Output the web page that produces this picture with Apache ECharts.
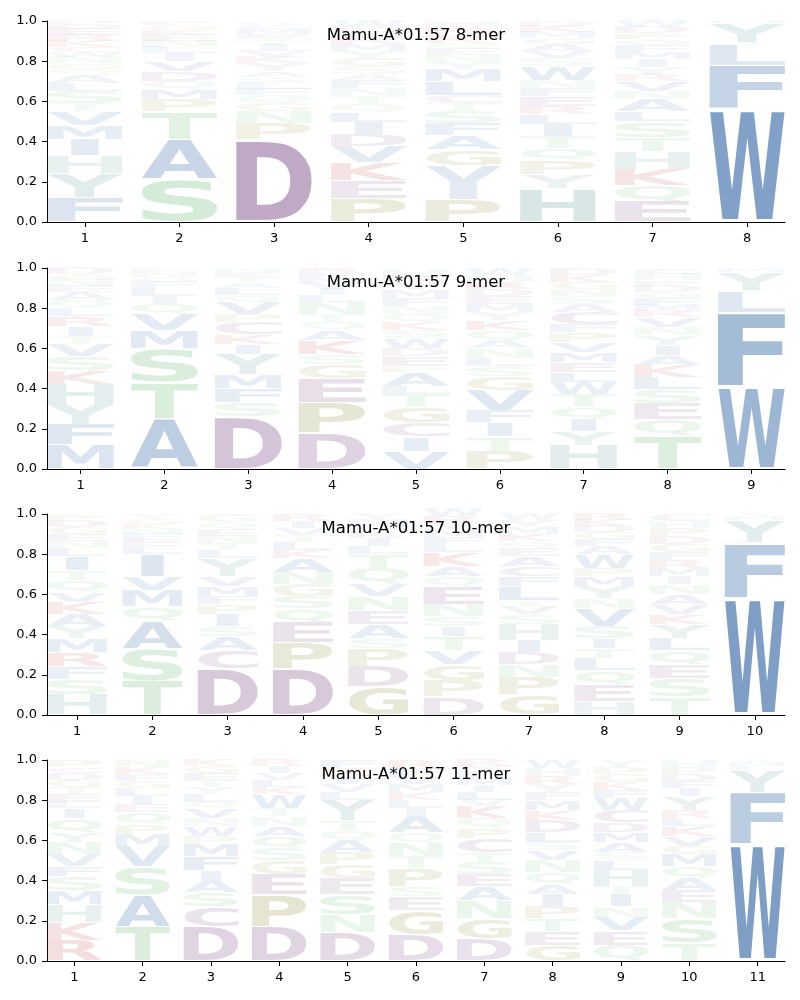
<!DOCTYPE html>
<html>
<head>
<meta charset="utf-8">
<script src="https://cdn.jsdelivr.net/npm/echarts@6/dist/echarts.min.js"></script>
<style>
html,body{margin:0;padding:0;background:#fff;}
#chart{width:800px;height:1000px;}
</style>
</head>
<body>
<div id="chart"></div>
<script>
// ---------------- DATA ----------------
const titles = ['Mamu-A*01:57 8-mer', 'Mamu-A*01:57 9-mer', 'Mamu-A*01:57 10-mer', 'Mamu-A*01:57 11-mer'];
const yTicks = [0, 0.2, 0.4, 0.6, 0.8, 1.0];
const xTicks8 = [1,2,3,4,5,6,7,8];
const xTicks9 = [1,2,3,4,5,6,7,8,9];
const xTicks10 = [1,2,3,4,5,6,7,8,9,10];
const xTicks11 = [1,2,3,4,5,6,7,8,9,10,11];

// each position: letters stacked bottom -> top with their frequencies
const logo8 = [
  [['F',.12],['Y',.12],['H',.09],['I',.08],['M',.07],['V',.07],['T',.04],['S',.06],['L',.04],['A',.04],['Q',.03],['G',.03],['N',.03],['W',.025],['C',.025],['K',.03],['R',.03],['E',.03],['D',.025],['P',.02]],
  [['S',.21],['A',.2],['T',.14],['P',.06],['M',.05],['Q',.04],['D',.05],['V',.05],['I',.04],['L',.03],['N',.03],['E',.03],['K',.025],['G',.025],['F',.02]],
  [['D',.41],['P',.08],['N',.06],['G',.04],['Q',.04],['F',.03],['L',.03],['S',.03],['A',.03],['Y',.04],['K',.03],['V',.03],['I',.03],['T',.03],['E',.025],['M',.025],['C',.02],['R',.01]],
  [['P',.115],['E',.09],['K',.09],['V',.08],['D',.06],['I',.06],['L',.05],['Q',.04],['T',.04],['N',.04],['F',.04],['A',.03],['S',.04],['G',.04],['Y',.035],['M',.035],['R',.03],['H',.03],['C',.025],['W',.03]],
  [['P',.11],['I',.08],['V',.09],['G',.08],['A',.07],['F',.06],['S',.06],['T',.04],['C',.04],['L',.07],['M',.06],['Y',.035],['N',.035],['E',.03],['Q',.03],['K',.03],['D',.03],['R',.025],['H',.025]],
  [['H',.165],['Y',.07],['P',.07],['Q',.06],['T',.06],['I',.06],['L',.05],['R',.04],['E',.05],['F',.04],['N',.04],['W',.07],['S',.04],['V',.035],['A',.035],['G',.03],['M',.03],['K',.03],['D',.025]],
  [['E',.1],['Q',.08],['K',.08],['H',.09],['T',.07],['S',.08],['L',.05],['A',.06],['N',.04],['V',.05],['R',.03],['Y',.04],['I',.04],['M',.035],['F',.035],['G',.03],['P',.03],['D',.03],['W',.03]],
  [['W',.56],['F',.22],['L',.1],['I',.015],['Y',.095],['M',.01]]
];
const logo9 = [
  [['M',.12],['F',.1],['Y',.1],['H',.1],['K',.07],['S',.07],['V',.06],['T',.04],['I',.05],['R',.05],['L',.04],['Q',.04],['A',.04],['E',.03],['N',.03],['G',.03],['D',.03]],
  [['A',.25],['T',.18],['S',.17],['M',.09],['V',.08],['Q',.05],['I',.04],['L',.04],['F',.03],['G',.025],['N',.025],['E',.02]],
  [['D',.26],['S',.07],['F',.07],['M',.07],['Y',.1],['I',.05],['K',.05],['C',.06],['P',.04],['V',.06],['Q',.035],['L',.035],['A',.03],['T',.025],['E',.025],['N',.02]],
  [['D',.18],['P',.15],['E',.12],['G',.07],['S',.05],['K',.07],['A',.05],['Q',.04],['T',.04],['N',.06],['L',.035],['I',.03],['V',.03],['M',.025],['F',.025],['R',.025]],
  [['V',.09],['I',.07],['C',.07],['G',.08],['T',.06],['L',.04],['A',.07],['P',.03],['E',.05],['D',.04],['W',.05],['S',.04],['K',.04],['Q',.04],['N',.04],['F',.04],['M',.04],['Y',.04],['R',.03],['H',.03]],
  [['P',.09],['T',.07],['I',.07],['F',.06],['V',.1],['G',.07],['S',.05],['L',.04],['N',.05],['A',.04],['Q',.05],['K',.05],['Y',.04],['M',.04],['E',.04],['D',.035],['R',.035],['H',.035],['W',.035]],
  [['H',.12],['Y',.07],['I',.06],['Q',.06],['T',.06],['W',.06],['L',.05],['E',.05],['M',.05],['V',.05],['P',.05],['F',.04],['C',.06],['A',.04],['S',.04],['N',.035],['G',.035],['K',.035],['D',.035]],
  [['T',.165],['Q',.08],['E',.08],['S',.07],['L',.06],['K',.06],['A',.05],['I',.05],['Y',.05],['N',.04],['V',.05],['R',.03],['M',.03],['F',.035],['G',.03],['D',.03],['P',.03],['H',.03],['C',.03]],
  [['W',.41],['F',.37],['L',.1],['I',.01],['Y',.09],['M',.02]]
];
const logo10 = [
  [['H',.1],['S',.08],['F',.06],['R',.07],['M',.07],['Y',.06],['A',.06],['K',.06],['V',.05],['Q',.06],['T',.05],['I',.07],['L',.04],['N',.035],['E',.035],['G',.035],['D',.035],['P',.03]],
  [['T',.17],['S',.16],['A',.14],['Q',.07],['M',.08],['V',.07],['I',.11],['L',.04],['E',.03],['F',.03],['N',.025],['K',.025],['G',.025],['Y',.025]],
  [['D',.23],['C',.09],['A',.07],['S',.05],['I',.06],['P',.05],['F',.04],['M',.05],['V',.05],['Y',.09],['L',.04],['T',.035],['N',.035],['E',.035],['Q',.035],['G',.04]],
  [['D',.23],['P',.13],['E',.1],['Q',.07],['S',.06],['G',.06],['N',.06],['A',.07],['K',.04],['L',.04],['T',.035],['V',.035],['I',.035],['R',.035]],
  [['G',.14],['D',.1],['P',.09],['S',.05],['A',.07],['E',.07],['N',.07],['V',.06],['Q',.08],['T',.07],['L',.04],['I',.04],['K',.03],['F',.03],['M',.03],['Y',.03]],
  [['D',.09],['P',.08],['G',.08],['V',.07],['T',.07],['I',.05],['S',.05],['N',.06],['E',.09],['Q',.05],['A',.05],['K',.07],['L',.04],['F',.035],['M',.035],['Y',.035],['R',.035],['W',.04]],
  [['G',.1],['P',.09],['N',.06],['D',.06],['I',.06],['H',.08],['S',.05],['V',.04],['T',.03],['L',.07],['F',.05],['C',.05],['A',.05],['E',.04],['Q',.035],['K',.035],['M',.035],['Y',.035],['W',.03]],
  [['H',.07],['E',.08],['Q',.07],['L',.06],['T',.05],['I',.05],['S',.06],['V',.09],['N',.05],['Y',.06],['M',.05],['P',.04],['W',.07],['A',.04],['F',.035],['G',.035],['D',.03],['K',.03],['R',.03]],
  [['T',.09],['S',.09],['E',.07],['Q',.07],['L',.06],['Y',.07],['K',.05],['V',.05],['A',.05],['N',.05],['I',.04],['M',.04],['R',.04],['F',.04],['G',.04],['D',.04],['P',.04],['H',.035],['C',.035]],
  [['W',.58],['F',.27],['L',.01],['Y',.11],['M',.02],['I',.01]]
];
const logo11 = [
  [['R',.1],['K',.09],['H',.09],['M',.07],['S',.07],['F',.05],['V',.06],['N',.06],['Y',.05],['Q',.07],['I',.05],['L',.03],['E',.04],['T',.035],['G',.035],['D',.035],['C',.03],['P',.035]],
  [['T',.17],['A',.16],['S',.14],['V',.1],['M',.06],['P',.05],['Q',.06],['E',.04],['I',.04],['L',.04],['G',.035],['F',.035],['K',.035],['N',.035]],
  [['D',.17],['C',.1],['S',.07],['A',.06],['I',.05],['F',.07],['M',.06],['P',.04],['W',.05],['N',.04],['V',.05],['Q',.03],['L',.04],['Y',.035],['T',.035],['E',.035],['G',.035],['K',.03]],
  [['D',.17],['P',.16],['E',.1],['G',.07],['S',.06],['Q',.06],['A',.05],['N',.05],['T',.04],['W',.07],['K',.035],['L',.035],['V',.035],['I',.035],['R',.03]],
  [['D',.14],['N',.09],['S',.1],['E',.08],['G',.07],['P',.06],['A',.06],['Q',.05],['T',.05],['Y',.1],['L',.04],['V',.04],['I',.04],['K',.04],['F',.04]],
  [['D',.13],['G',.12],['E',.07],['S',.05],['P',.09],['T',.06],['N',.07],['Q',.05],['A',.08],['I',.04],['L',.04],['K',.04],['M',.04],['V',.04],['F',.04],['R',.04]],
  [['D',.11],['G',.1],['N',.09],['A',.07],['E',.06],['S',.06],['T',.05],['C',.07],['P',.05],['Q',.05],['K',.06],['V',.03],['L',.04],['I',.035],['M',.035],['F',.03],['Y',.03],['R',.03]],
  [['G',.08],['E',.07],['T',.06],['P',.06],['I',.06],['A',.05],['Q',.06],['N',.06],['V',.05],['S',.04],['L',.05],['D',.06],['K',.05],['M',.05],['F',.04],['Y',.04],['R',.04],['H',.04],['W',.04]],
  [['Q',.08],['E',.07],['V',.07],['N',.05],['I',.06],['T',.04],['H',.08],['L',.05],['S',.04],['A',.05],['M',.05],['D',.05],['C',.06],['W',.06],['F',.04],['K',.04],['G',.04],['P',.035],['Y',.035]],
  [['T',.09],['S',.12],['N',.08],['E',.06],['A',.06],['Q',.06],['M',.06],['G',.04],['V',.05],['K',.05],['L',.04],['R',.04],['Y',.07],['I',.04],['F',.035],['D',.035],['P',.035],['H',.035]],
  [['W',.58],['F',.26],['Y',.11],['L',.02],['M',.02],['I',.01]]
];

// ---------------- STYLE ----------------
const AA = 'ACDEFGHIKLMNPQRSTVWY';
const BLUE = [45, 98, 162], PURPLE = [121, 70, 130], GREEN = [100, 182, 108],
      RED = [185, 45, 45], TAN = [137, 137, 50], TEAL = [85, 145, 145];
const COLORS = {A:BLUE,C:PURPLE,D:PURPLE,E:PURPLE,F:BLUE,G:TAN,H:TEAL,I:BLUE,K:RED,L:BLUE,
  M:BLUE,N:GREEN,P:TAN,Q:GREEN,R:RED,S:GREEN,T:GREEN,V:BLUE,W:BLUE,Y:TEAL};
const FS = 100;
const FAM = 'DejaVu Sans';
const VPAD = 0.05;
const HALFW = 0.4;

const mctx = document.createElement('canvas').getContext('2d');
mctx.font = 'bold ' + FS + 'px "' + FAM + '"';
mctx.textBaseline = 'middle';
mctx.textAlign = 'left';
const MET = {};
for (const c of AA) {
  const m = mctx.measureText(c);
  MET[c] = {l: m.actualBoundingBoxLeft, r: m.actualBoundingBoxRight, a: m.actualBoundingBoxAscent, d: m.actualBoundingBoxDescent};
}

function buildData(logo) {
  const out = [];
  logo.forEach((stack, i) => {
    let acc = 0;
    stack.forEach(([ch, v]) => {
      out.push([i + 1, acc, acc + v, AA.indexOf(ch)]);
      acc += v;
    });
  });
  return out;
}

function renderItem(params, api) {
  const x = api.value(0), y0 = api.value(1), y1 = api.value(2);
  const ch = AA[api.value(3)];
  const h = y1 - y0;
  const bl = api.coord([x - HALFW, y0]);
  const tr = api.coord([x + HALFW, y1]);
  const hpx = bl[1] - tr[1];
  const pad = hpx * VPAD / 2;
  const top = tr[1] + pad, bottom = bl[1] - pad;
  const left = bl[0], right = tr[0];
  const m = MET[ch];
  const boxW = right - left;
  const inkW = m.l + m.r, inkH = m.a + m.d;
  let sx = boxW / inkW;
  if (ch === 'I') sx = boxW * 0.37 / inkW;
  const sy = Math.max(bottom - top, 0.01) / inkH;
  const x0 = left + (boxW - inkW * sx) / 2;
  const alpha = Math.min(1, 0.95 * Math.pow(h, 0.8));
  const c = COLORS[ch];
  return {
    type: 'text',
    x: x0 + sx * m.l,
    y: top + sy * m.a,
    scaleX: sx,
    scaleY: sy,
    silent: true,
    style: {
      text: ch, x: 0, y: 0,
      fontSize: FS, fontFamily: FAM, fontWeight: 'bold',
      align: 'left', verticalAlign: 'middle',
      fill: 'rgba(' + c[0] + ',' + c[1] + ',' + c[2] + ',' + alpha.toFixed(3) + ')'
    }
  };
}

const logos = [logo8, logo9, logo10, logo11];
const xTicks = [xTicks8, xTicks9, xTicks10, xTicks11];
const tops = [21, 268, 514, 760];
const PH = 201;

const option = {
  animation: false,
  backgroundColor: '#fff',
  title: titles.map((t, i) => ({
    text: t, left: 416, textAlign: 'center', top: tops[i] + 6, padding: 0,
    textStyle: {fontSize: 16.5, fontWeight: 'normal', color: '#000', fontFamily: FAM}
  })),
  grid: tops.map(t => ({left: 47, width: 738, top: t, height: PH})),
  xAxis: logos.map((lg, i) => ({
    type: 'value', gridIndex: i, min: 0.6, max: lg.length + 0.4,
    splitLine: {show: false},
    axisLine: {onZero: false, lineStyle: {color: '#000', width: 1}},
    axisTick: {customValues: xTicks[i], length: 5, lineStyle: {color: '#000'}},
    axisLabel: {customValues: xTicks[i], color: '#000', fontSize: 13, fontFamily: FAM, margin: 10}
  })),
  yAxis: logos.map((lg, i) => ({
    type: 'value', gridIndex: i, min: 0, max: 1,
    splitLine: {show: false},
    axisLine: {show: true, onZero: false, lineStyle: {color: '#000', width: 1}},
    axisTick: {show: true, customValues: yTicks, length: 5, lineStyle: {color: '#000'}},
    axisLabel: {customValues: yTicks, color: '#000', fontSize: 13, fontFamily: FAM, margin: 10,
      formatter: v => v.toFixed(1)}
  })),
  series: logos.map((lg, i) => ({
    type: 'custom', xAxisIndex: i, yAxisIndex: i,
    renderItem: renderItem,
    encode: {x: 0, y: [1, 2]},
    data: buildData(lg),
    clip: false
  }))
};

const chart = echarts.init(document.getElementById('chart'), null, {renderer: 'canvas'});
chart.setOption(option);
</script>
</body>
</html>
